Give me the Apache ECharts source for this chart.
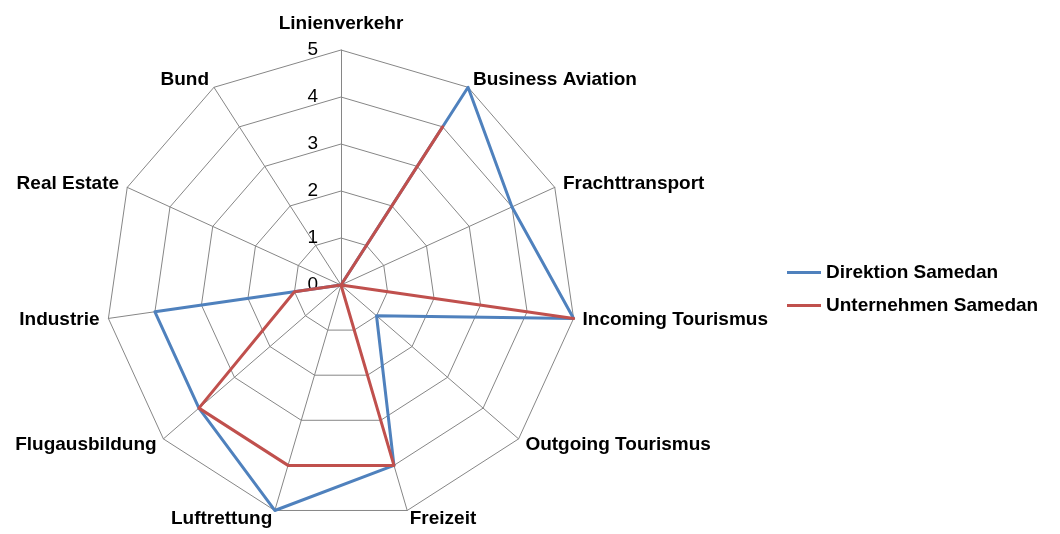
<!DOCTYPE html>
<html>
<head>
<meta charset="utf-8">
<script src="https://cdn.jsdelivr.net/npm/echarts@6/dist/echarts.min.js"></script>
<style>
  html, body { margin: 0; padding: 0; background: #fff; }
  #main { width: 1060px; height: 534px; }
</style>
</head>
<body>
<div id="main"></div>
<script>
// categories in clockwise order, starting at the top
var categories = ['Linienverkehr', 'Business Aviation', 'Frachttransport', 'Incoming Tourismus',
  'Outgoing Tourismus', 'Freizeit', 'Luftrettung', 'Flugausbildung', 'Industrie', 'Real Estate', 'Bund'];
var direktion = [0, 5, 4, 5, 1, 4, 5, 4, 4, 0, 0];
var unternehmen = [0, 4, 0, 5, 0, 4, 4, 4, 1, 0, 0];
var ticks = [0, 1, 2, 3, 4, 5];

// echarts places radar indicators counterclockwise, so flip everything after the first
function ccw(arr) {
  return [arr[0]].concat(arr.slice(1).reverse());
}

var font = 'Liberation Sans';
var center = [341, 285];
var radius = 235;

var myChart = echarts.init(document.getElementById('main'));
myChart.setOption({
  animation: false,
  legend: {
    orient: 'vertical',
    left: 782,
    top: 258,
    itemGap: 14,
    itemWidth: 34,
    itemHeight: 3,
    icon: 'rect',
    textStyle: { fontFamily: font, fontWeight: 'bold', fontSize: 19, color: '#000' },
    data: ['Direktion Samedan', 'Unternehmen Samedan']
  },
  radar: {
    center: center,
    radius: radius,
    startAngle: 90,
    shape: 'polygon',
    splitNumber: 5,
    nameGap: 9,
    axisName: {
      color: '#000', fontFamily: font, fontWeight: 'bold', fontSize: 19,
      // top label sits a bit higher above the "5" in the original
      formatter: function (name) { return name === categories[0] ? '{top|' + name + '}' : name; },
      rich: { top: { fontFamily: font, fontWeight: 'bold', fontSize: 19, color: '#000', padding: [0, 0, 8, 0] } }
    },
    splitLine: { lineStyle: { color: '#868686', width: 1 } },
    splitArea: { show: false },
    axisLine: { lineStyle: { color: '#868686', width: 1 } },
    indicator: ccw(categories).map(function (c) { return { name: c, min: 0, max: 5 }; })
  },
  // polar overlay only to draw the 0..5 labels along the top spoke
  polar: { center: center, radius: radius },
  angleAxis: { startAngle: 90, show: false, min: 0, max: 360 },
  radiusAxis: {
    min: 0, max: 5, interval: 1,
    axisLine: { show: false },
    axisTick: { show: false },
    splitLine: { show: false },
    axisLabel: { fontFamily: font, fontSize: 19, color: '#000', margin: 23,
      formatter: function (v) { return ticks.indexOf(v) >= 0 ? String(v) : ''; } }
  },
  series: [{
    name: 'Direktion Samedan',
    type: 'radar',
    symbol: 'none',
    lineStyle: { width: 3, color: '#4F81BD' },
    itemStyle: { color: '#4F81BD' },
    data: [{ value: ccw(direktion), name: 'Direktion Samedan' }]
  }, {
    name: 'Unternehmen Samedan',
    type: 'radar',
    symbol: 'none',
    lineStyle: { width: 3, color: '#C0504D' },
    itemStyle: { color: '#C0504D' },
    data: [{ value: ccw(unternehmen), name: 'Unternehmen Samedan' }]
  }]
});
</script>
</body>
</html>
